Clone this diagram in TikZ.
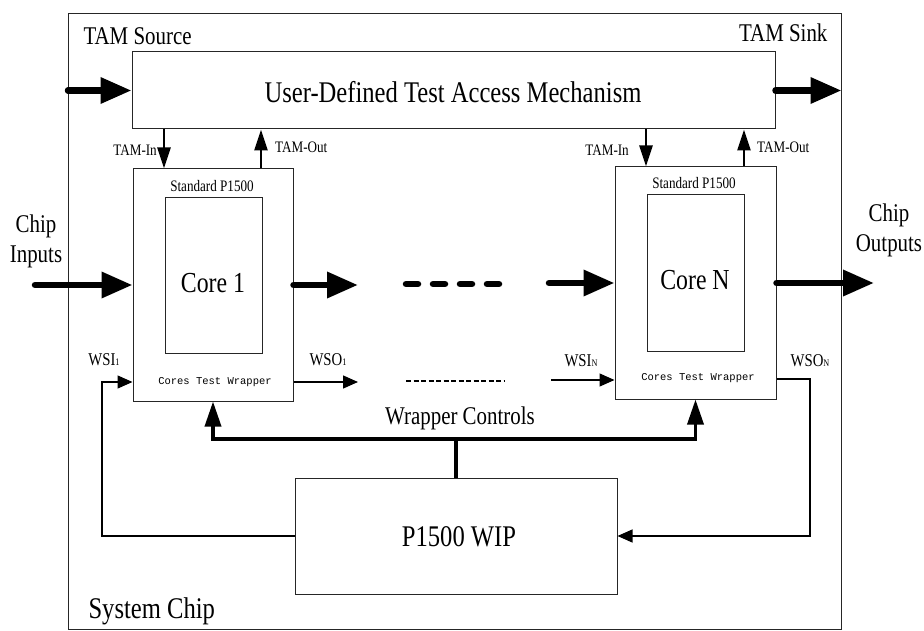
\documentclass[tikz,border=0pt]{standalone}
\usepackage{fontspec}
\setmainfont{Liberation Serif}[FakeStretch=0.82]
\setmonofont{Liberation Mono}
\usetikzlibrary{arrows.meta,positioning}
\newcommand{\lo}[1]{{\fontsize{10}{10}\selectfont #1}}
\tikzset{box/.style={draw=black!85,line width=1pt,inner sep=0pt},
  big label/.style={font=\fontsize{30}{30}\selectfont},
  mid label/.style={font=\fontsize{25.5}{30}\selectfont,align=center},
  core label/.style={font=\fontsize{29}{30}\selectfont},
  small label/.style={font=\fontsize{16}{16}\selectfont,inner sep=1pt},
  ws label/.style={font=\fontsize{18}{18}\selectfont,inner sep=1pt},
  mono label/.style={font=\ttfamily\fontsize{10.5}{10.5}\selectfont},
  big arrow/.style={line width=6.5pt,line cap=round,-{Triangle[length=31pt,width=25pt]}},
  mid arrow/.style={line width=2.7pt,-{Triangle[length=21pt,width=13pt]}},
  ctrl/.style={line width=3.5pt},
  thin arrow/.style={line width=1.3pt,-{Triangle[length=15pt,width=13pt]}}}
\begin{document}
\begin{tikzpicture}[x=1pt,y=-1pt]
  \useasboundingbox (0,0) rectangle (924,631);
  % boxes
  \node[box,minimum width=773,minimum height=615] (chip) at (454.5,321.5) {};
  \node[box,minimum width=643,minimum height=77] (tam) at (453.5,90.5) {};
  \node[box,minimum width=160,minimum height=232] (wrap1) at (213,285) {};
  \node[box,minimum width=97,minimum height=155] (core1) at (213.5,275.5) {};
  \node[box,minimum width=161,minimum height=232] (wrapN) at (695.5,283) {};
  \node[box,minimum width=97,minimum height=156] (coreN) at (695.5,273) {};
  \node[box,minimum width=322,minimum height=116] (wip) at (456,536) {};
  % texts
  \node[big label] (tamtxt) at (453,92) {User-Defined Test Access Mechanism};
  \node[mid label,anchor=west] (source) at (80,36) {TAM Source};
  \node[mid label,anchor=east] (sink) at (831,33) {TAM Sink};
  \node[mid label] (inputs) at (36,241) {Chip\\Inputs};
  \node[mid label] (outputs) at (889,230) {Chip\\Outputs};
  \node[small label] (std1) at (212,186) {Standard P1500};
  \node[small label] (stdN) at (694,183) {Standard P1500};
  \node[core label] (c1txt) at (213,283) {Core 1};
  \node[core label] (cNtxt) at (695,280) {Core N};
  \node[mono label] (tw1) at (215,382) {Cores Test Wrapper};
  \node[mono label] (twN) at (698,378) {Cores Test Wrapper};
  \node[small label,anchor=east] (tin1) at (158,150) {TAM-In};
  \node[small label,anchor=west] (tout1) at (274,147) {TAM-Out};
  \node[small label,anchor=east] (tinN) at (630,150) {TAM-In};
  \node[small label,anchor=west] (toutN) at (756,147) {TAM-Out};
  \node[ws label] (wsi1) at (104,360) {WSI\lo{1}};
  \node[ws label] (wso1) at (328,360) {WSO\lo{1}};
  \node[ws label] (wsiN) at (581,361) {WSI\lo{N}};
  \node[ws label] (wsoN) at (810,361) {WSO\lo{N}};
  \node[mid label] (ctrltxt) at (460,418) {Wrapper Controls};
  \node[big label] (wiptxt) at (459,537) {P1500 WIP};
  \node[big label,anchor=west] (systxt) at (85,611) {System Chip};
  % free ends
  \coordinate (tamsrc) at (68,90.5);
  \coordinate (chipin) at (35,285);
  \coordinate (out1) at (358,285);
  \coordinate (dash1) at (406,284);
  \coordinate (dash2) at (504,284);
  \coordinate (inN) at (549,283);
  \coordinate (chipout) at (874,283);
  \coordinate (x1) at (164,0);
  \coordinate (y1) at (261,0);
  \coordinate (xN) at (646,0);
  \coordinate (yN) at (744,0);
  \coordinate (bus) at (456,439);
  \coordinate (loop1) at (102,382);
  \coordinate (so1) at (358,382);
  \coordinate (dot1) at (406,381);
  \coordinate (dot2) at (504,381);
  \coordinate (siN) at (551,380);
  \coordinate (loopN) at (810,379);
  % connectors
  \draw[big arrow] (tamsrc) -- (tam.west);
  \draw[big arrow] (tam.east) -- (tam.east -| chip.east);
  \draw[big arrow] (chipin) -- (wrap1.west);
  \draw[big arrow] (wrap1.east) -- (out1);
  \draw[line width=6.5pt,line cap=round,dash pattern=on 12pt off 15pt] (dash1) -- (dash2);
  \draw[big arrow] (inN) -- (wrapN.west);
  \draw[big arrow] (wrapN.east) -- (chipout);
  \draw[mid arrow] (x1 |- tam.south) -- (x1 |- wrap1.north);
  \draw[mid arrow] (y1 |- wrap1.north) -- (y1 |- tam.south);
  \draw[mid arrow] (xN |- tam.south) -- (xN |- wrapN.north);
  \draw[mid arrow] (yN |- wrapN.north) -- (yN |- tam.south);
  \draw[ctrl] (wip.north) -- (wip.north |- bus);
  \draw[ctrl,{Triangle[length=25pt,width=16pt]}-{Triangle[length=25pt,width=16pt]}]
    (wrap1.south) -- (wrap1.south |- bus) -- (wrapN.south |- bus) -- (wrapN.south);
  \draw[thin arrow] (wip.west) -| (loop1) -- (loop1 -| wrap1.west);
  \draw[thin arrow] (wrap1.east |- so1) -- (so1);
  \draw[line width=2.7pt,dash pattern=on 5pt off 2.5pt] (dot1) -- (dot2);
  \draw[thin arrow] (siN) -- (siN -| wrapN.west);
  \draw[thin arrow] (wrapN.east |- loopN) -- (loopN) -- (loopN |- wip.east) -- (wip.east);
\end{tikzpicture}
\end{document}
